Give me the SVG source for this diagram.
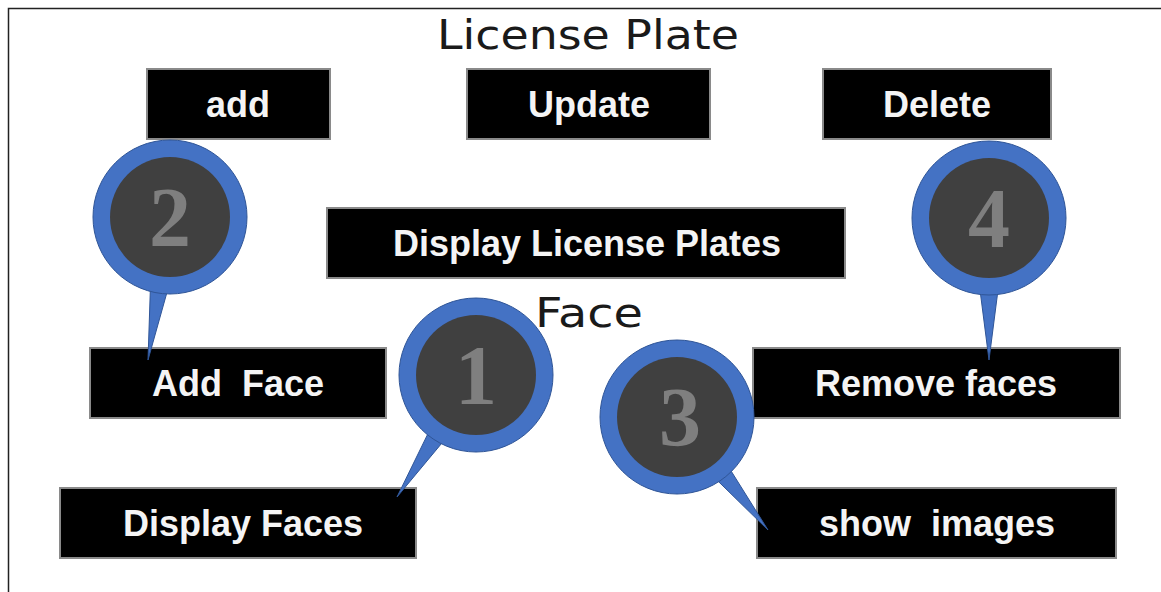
<svg xmlns="http://www.w3.org/2000/svg" width="1161" height="592" viewBox="0 0 1161 592">
<style>
.box{fill:#000;stroke:#8a8a8a;stroke-width:2}
.lbl{font-family:"Liberation Sans",Arial,sans-serif;font-weight:bold;font-size:36px;fill:#f4f4f4;text-anchor:middle;white-space:pre}
.ttl{font-family:"DejaVu Sans",Verdana,sans-serif;font-size:40px;fill:#1a1a1a;text-anchor:middle}
.ring{fill:#4472c4;stroke:#2f5597;stroke-width:1}
.core{fill:#404040}
.num{font-family:"Liberation Serif","Times New Roman",serif;font-weight:bold;font-size:84px;fill:#7f7f7f;text-anchor:middle}
</style>
<rect x="0" y="0" width="1161" height="592" fill="#fff"/>
<rect x="8.5" y="8.5" width="1170" height="600" fill="none" stroke="#222" stroke-width="1.5"/>
<g id="title-license"><text class="ttl" x="588" y="49" textLength="302" lengthAdjust="spacingAndGlyphs">License Plate</text></g>
<g id="title-face"><text class="ttl" x="589" y="327" textLength="108" lengthAdjust="spacingAndGlyphs">Face</text></g>
<g id="n-add"><rect class="box" x="147" y="69" width="183" height="70"/><text class="lbl" x="238" y="117">add</text></g>
<g id="n-update"><rect class="box" x="467" y="69" width="243" height="70"/><text class="lbl" x="589" y="117">Update</text></g>
<g id="n-delete"><rect class="box" x="823" y="69" width="228" height="70"/><text class="lbl" x="937" y="117">Delete</text></g>
<g id="n-displp"><rect class="box" x="327" y="208" width="518" height="70"/><text class="lbl" x="587" y="256">Display License Plates</text></g>
<g id="n-addface"><rect class="box" x="90" y="348" width="296" height="70"/><text class="lbl" x="238" y="396">Add  Face</text></g>
<g id="n-dispfaces"><rect class="box" x="60" y="488" width="356" height="70"/><text class="lbl" x="243" y="536">Display Faces</text></g>
<g id="n-remove"><rect class="box" x="753" y="348" width="367" height="70"/><text class="lbl" x="936" y="396">Remove faces</text></g>
<g id="n-show"><rect class="box" x="757" y="488" width="359" height="70"/><text class="lbl" x="937" y="536">show  images</text></g>
<g id="connectors">
<g id="callout-2"><polygon class="ring" points="168.3,287.6 148,360 150.5,284.8"/><circle class="ring" cx="170" cy="217" r="77"/><circle class="core" cx="170" cy="217" r="60"/><text class="num" x="170" y="246">2</text></g>
<g id="callout-4"><polygon class="ring" points="998,290 989,360 980,290"/><circle class="ring" cx="989" cy="218" r="77"/><circle class="core" cx="989" cy="218" r="60"/><text class="num" x="989" y="247">4</text></g>
<g id="callout-1"><polygon class="ring" points="445.5,438.7 397,497 430.3,428.9"/><circle class="ring" cx="476" cy="375" r="77"/><circle class="core" cx="476" cy="375" r="60"/><text class="num" x="476" y="404">1</text></g>
<g id="callout-3"><polygon class="ring" points="727.9,465.9 768,530 713.9,477.1"/><circle class="ring" cx="677" cy="417" r="77"/><circle class="core" cx="677" cy="417" r="60"/><text class="num" x="680" y="446">3</text></g>
</g>
</svg>
